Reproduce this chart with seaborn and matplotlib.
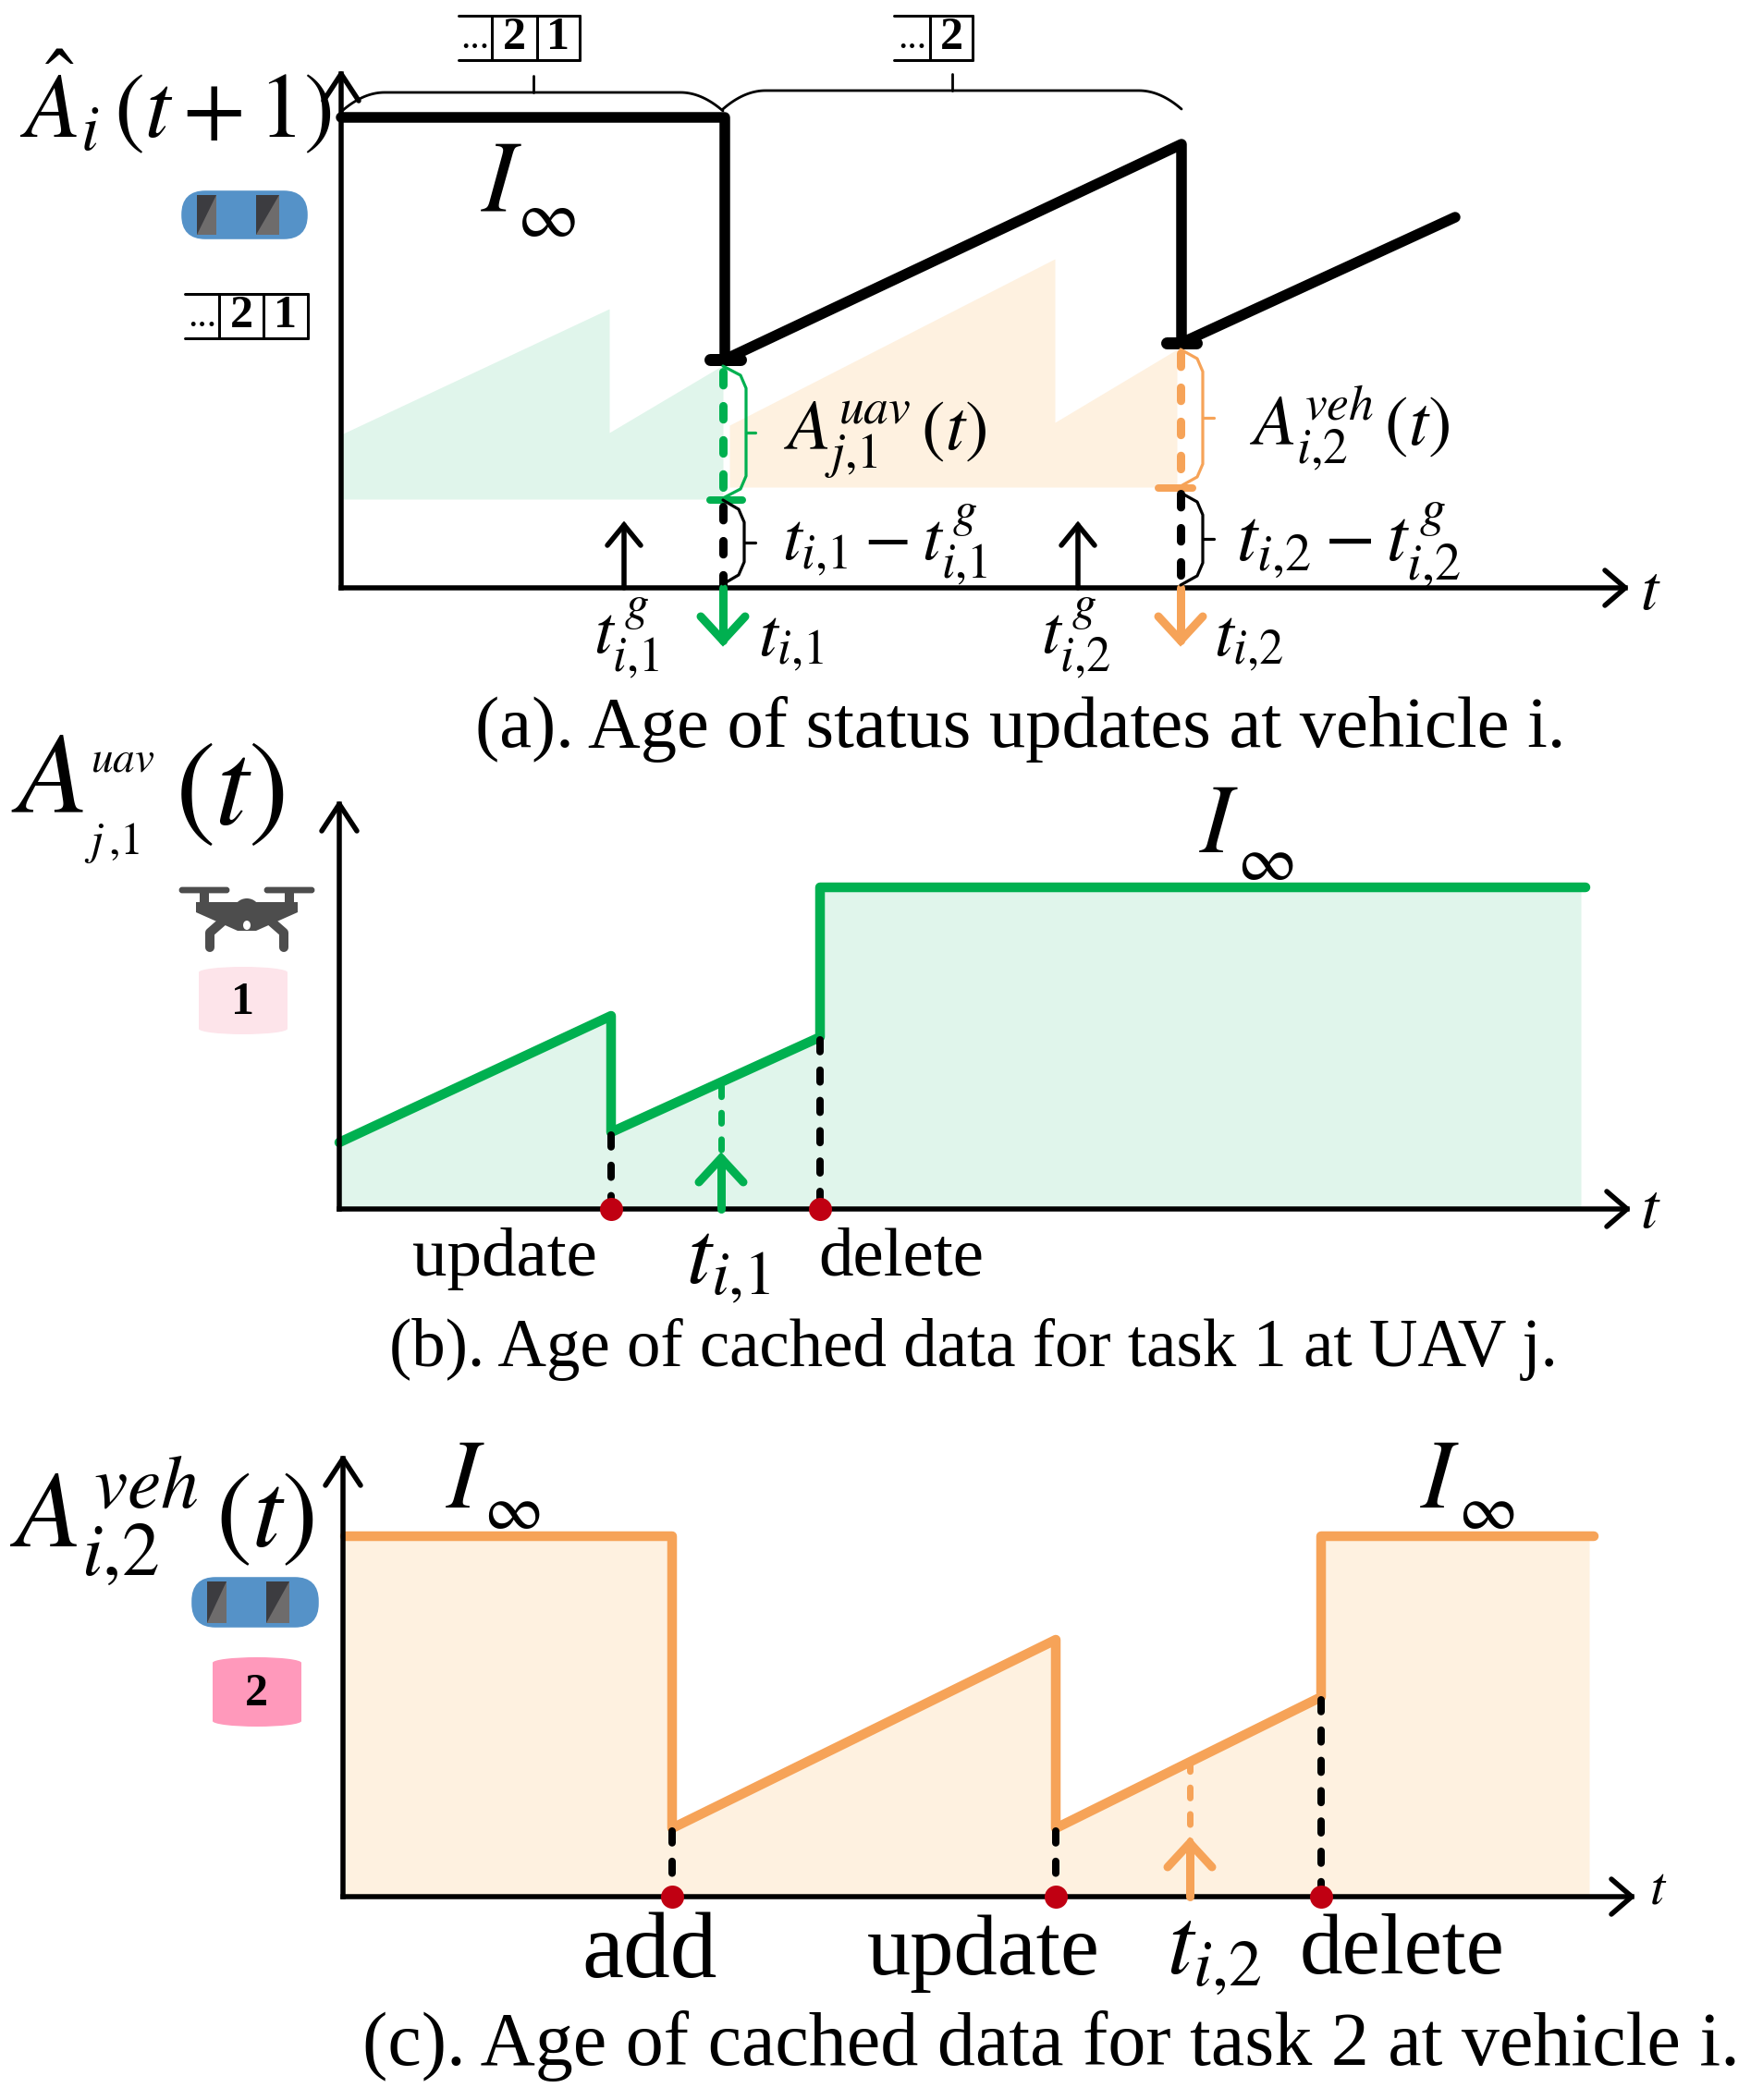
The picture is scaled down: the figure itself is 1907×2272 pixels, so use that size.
"""Age of status updates at vehicle i, and age of cached data at UAV j / vehicle i."""
import matplotlib
matplotlib.use("Agg")
import matplotlib.pyplot as plt
from matplotlib.patches import Ellipse, FancyBboxPatch, Polygon, Rectangle
import numpy as np
import pandas as pd
import seaborn as sns

# panel (a): values are counted from the axis origin, one unit is one pixel of the figure
a_t = [0, 415, 415, 909, 909, 1205]
a_age = [509, 509, 247, 480, 265, 401]
a_green_t = [0, 290, 290, 413]
a_green_age = [166, 302, 168, 241]
a_green_base = 96
a_orange_t = [420, 772, 772, 904]
a_orange_age = [176, 356, 179, 258]
a_orange_base = 109
a_gen_t = [306, 797]
a_recv_t = [413, 908]

# panel (b)
b_t = [0, 294, 294, 520, 520, 1348]
b_age = [72, 209, 83, 186, 348, 348]
b_events = [294, 520]
b_request = 413

# panel (c)
c_t = [2, 356, 356, 771, 771, 1058, 1058, 1353]
c_age = [390, 390, 74, 278, 74, 216, 390, 390]
c_events = [356, 771, 1058]
c_request = 916

titles = ["(a). Age of status updates at vehicle i.",
          "(b). Age of cached data for task 1 at UAV j.",
          "(c). Age of cached data for task 2 at vehicle i."]

BLACK = "#000000"
GREEN = "#00b050"
GREEN_FILL = "#e0f5eb"
ORANGE = "#f6a358"
ORANGE_FILL = "#fef1e0"
RED = "#c00012"
W, H = 1908, 2272
PX = 72 / 100  # points per pixel at dpi 100

sns.set_theme(style="white")
plt.rcParams["font.family"] = ["Liberation Serif", "DejaVu Serif"]
plt.rcParams["mathtext.fontset"] = "stix"
plt.rcParams["text.color"] = BLACK

fig = plt.figure(figsize=(W / 100, H / 100), dpi=100, facecolor="white")


def make_panel(x0, y0, w, h):
    ax = fig.add_axes([x0 / W, 1 - y0 / H, w / W, h / H])
    ax.set_xlim(0, w)
    ax.set_ylim(0, h)
    ax.patch.set_alpha(0)
    ax.set_xticks([])
    ax.set_yticks([])
    for s in ["top", "right"]:
        ax.spines[s].set_visible(False)
    for s in ["left", "bottom"]:
        ax.spines[s].set_linewidth(5.5 * PX)
        ax.spines[s].set_color(BLACK)
        ax.spines[s].set_zorder(6)
    kw = dict(color=BLACK, lw=5.5 * PX, clip_on=False, solid_capstyle="round", zorder=6)
    ax.plot([-19, 0, 19], [h - 29, h, h - 29], **kw)
    ax.plot([w - 22, w, w - 22], [19, 0, -19], **kw)
    return ax


def draw_series(ax, t, age, color, lw):
    df = pd.DataFrame({"t": t, "age": age})
    sns.lineplot(data=df, x="t", y="age", sort=False, estimator=None, color=color,
                 linewidth=lw * PX, ax=ax, clip_on=False, zorder=5,
                 solid_capstyle="round", solid_joinstyle="round")
    ax.set_xlabel("")
    ax.set_ylabel("")


def dashed(ax, x, y0, y1, color, lw=9):
    ax.plot([x, x], [y0, y1], color=color, lw=lw * PX, linestyle=(0, (1.6, 2.5)),
            dash_capstyle="round", clip_on=False, zorder=5)


def arrow(ax, x, base, tip, color, lw, wing=24, back=26):
    sign = 1 if tip > base else -1
    kw = dict(color=color, lw=lw * PX, clip_on=False, solid_capstyle="round",
              solid_joinstyle="miter", zorder=7)
    ax.plot([x, x], [base, tip], **kw)
    ax.plot([x - wing, x, x + wing], [tip - sign * back, tip, tip - sign * back], **kw)


def red_dots(ax, xs):
    sns.scatterplot(x=xs, y=[0] * len(xs), color=RED, s=(25 * PX) ** 2, ax=ax,
                    linewidth=0, clip_on=False, zorder=8)
    ax.set_xlim(0, ax.get_xlim()[1])
    ax.set_ylim(0, ax.get_ylim()[1])


# panel (a)
ax_a = make_panel(369, 636, 1389, 556)
ax_a.fill_between(a_green_t, a_green_base, a_green_age, color=GREEN_FILL, lw=0, zorder=1)
ax_a.fill_between(a_orange_t, a_orange_base, a_orange_age, color=ORANGE_FILL, lw=0, zorder=1)
draw_series(ax_a, a_t, a_age, BLACK, 11.5)
stub_kw = dict(solid_capstyle="round", clip_on=False, zorder=5)
ax_a.plot([399, 432], [247, 247], color=BLACK, lw=13 * PX, **stub_kw)
ax_a.plot([893, 925], [265, 265], color=BLACK, lw=13 * PX, **stub_kw)
ax_a.plot([399, 434], [95, 95], color=GREEN, lw=8 * PX, **stub_kw)
ax_a.plot([884, 921], [108, 108], color=ORANGE, lw=8 * PX, **stub_kw)
dashed(ax_a, a_recv_t[0], 234, 97, GREEN)
dashed(ax_a, a_recv_t[0], 88, 3, BLACK)
dashed(ax_a, a_recv_t[1], 254, 110, ORANGE)
dashed(ax_a, a_recv_t[1], 102, 3, BLACK)
arrow(ax_a, a_recv_t[0], 0, -57, GREEN, 9)
arrow(ax_a, a_recv_t[1], 0, -57, ORANGE, 9)
for x in a_gen_t:
    arrow(ax_a, x, 0, 68, BLACK, 5.5, wing=18, back=22)

# panel (b)
ax_b = make_panel(367, 1308, 1393, 438)
ax_b.fill_between(b_t[:-1] + [1343], 0, b_age, color=GREEN_FILL, lw=0, zorder=1)
draw_series(ax_b, b_t, b_age, GREEN, 10.5)
for x, top in zip(b_events, [83, 186]):
    dashed(ax_b, x, top - 3, 4, BLACK, 8)
dashed(ax_b, b_request, 133, 60, GREEN, 7)
arrow(ax_b, b_request, 0, 55, GREEN, 9)
red_dots(ax_b, b_events)

# panel (c)
ax_c = make_panel(371, 2052, 1394, 474)
ax_c.fill_between(c_t[:-1] + [1348], 0, c_age, color=ORANGE_FILL, lw=0, zorder=1)
draw_series(ax_c, c_t, c_age, ORANGE, 10.5)
for x, top in zip(c_events, [74, 74, 216]):
    dashed(ax_c, x, top - 3, 4, BLACK, 8)
dashed(ax_c, c_request, 147, 60, ORANGE, 7)
arrow(ax_c, c_request, 0, 58, ORANGE, 9)
red_dots(ax_c, c_events)

# overlay in figure pixels for the drawn labels and icons
ov = fig.add_axes([0, 0, 1, 1])
ov.set_xlim(0, W)
ov.set_ylim(H, 0)
ov.axis("off")
ov.patch.set_alpha(0)


def label(x, y, s, size, **kw):
    ov.text(x, y, s, fontsize=size, ha="center", va="center", zorder=10, **kw)


def brace_v(x0, xr, y0, y1, color, tick):
    xs = [x0, xr - 6, xr, xr, xr - 6, x0]
    ys = [y0, y0 + 10, y0 + 24, y1 - 24, y1 - 10, y1]
    ov.plot(xs, ys, color=color, lw=3.2 * PX, zorder=4)
    ym = (y0 + y1) / 2
    ov.plot([xr, xr + tick], [ym, ym], color=color, lw=3.2 * PX, zorder=4)


def brace_h(x0, x1, ytop, ybot, stem_x, stem_top):
    s = np.linspace(0, 1, 20)
    rise = (ybot - ytop) * (1 - (1 - s) ** 2)
    xs = np.r_[x0 + 46 * s, x1 - 46 * s[::-1]]
    ys = np.r_[ybot - rise, ybot - rise[::-1]]
    ov.plot(xs, ys, color=BLACK, lw=2.8 * PX, zorder=4)
    ov.plot([stem_x, stem_x], [ytop, stem_top], color=BLACK, lw=2.8 * PX, zorder=4)


def queue(x0, dividers, y0, y1, numbers):
    ov.plot([x0, dividers[-1]], [y0, y0], color=BLACK, lw=3 * PX)
    ov.plot([x0, dividers[-1]], [y1, y1], color=BLACK, lw=3 * PX)
    for d in dividers:
        ov.plot([d, d], [y0, y1], color=BLACK, lw=3 * PX)
    label((x0 + dividers[0]) / 2, (y0 + y1) / 2 + 1, "...", 30)
    for n, a, b in zip(numbers, dividers[:-1], dividers[1:]):
        label((a + b) / 2, (y0 + y1) / 2, n, 36, fontweight="bold")


def car(x0, y0, x1, y1):
    w, h = x1 - x0, y1 - y0
    ov.add_patch(FancyBboxPatch((x0 + 6, y0 + 3), w - 12, h - 6,
                                boxstyle="round,pad=0,rounding_size=23",
                                fc="#5592c8", ec="#5592c8", lw=4))
    for a, b in [(0.14, 0.285), (0.585, 0.76)]:
        xa, xb = x0 + a * w, x0 + b * w
        ya, yb = y0 + 0.09 * h, y0 + 0.91 * h
        ov.add_patch(Polygon([[xa, ya], [xb, ya], [xb, yb], [xa, yb]],
                             fc="#3c3c40", ec="none", zorder=3))
        ov.add_patch(Polygon([[xb, ya], [xb, yb], [xa, yb]],
                             fc="#6e6c6c", ec="none", zorder=3))


def cylinder(x0, y0, x1, y1, color):
    ov.add_patch(Rectangle((x0, y0 + 6), x1 - x0, y1 - y0 - 12, fc=color, ec="none"))
    ov.add_patch(Ellipse(((x0 + x1) / 2, y0 + 6), x1 - x0, 12, fc=color, ec="none"))
    ov.add_patch(Ellipse(((x0 + x1) / 2, y1 - 6), x1 - x0, 12, fc=color, ec="none"))


def drone(cx, top):
    dark = "#4d4d4d"
    for dx in [-46, 46]:
        ov.add_patch(FancyBboxPatch((cx + dx - 26, top + 2), 52, 4,
                                    boxstyle="round,pad=0,rounding_size=2", fc=dark, ec=dark, lw=2))
    for dx in [-46, 46]:
        ov.add_patch(Rectangle((cx + dx - 5, top + 4), 10, 18, fc=dark, ec="none"))
    ov.add_patch(Polygon([[cx - 55, top + 17], [cx + 55, top + 17], [cx + 55, top + 28],
                          [cx + 10, top + 48], [cx - 10, top + 48], [cx - 55, top + 28]],
                         fc=dark, ec="none"))
    ov.add_patch(Ellipse((cx, top + 26), 28, 26, fc=dark, ec="none"))
    ov.add_patch(Ellipse((cx, top + 42), 8, 10, fc="white", ec="none", zorder=3))
    for sign in [-1, 1]:
        ov.plot([cx + sign * 24, cx + sign * 40, cx + sign * 40],
                [top + 36, top + 50, top + 66], color=dark, lw=10 * PX,
                solid_capstyle="round", solid_joinstyle="round")


brace_h(370, 782, 100, 120, 577, 82)
brace_h(782, 1278, 98, 118, 1030, 80)
brace_v(782, 807, 396, 539, GREEN, 10)
brace_v(782, 805, 541, 632, BLACK, 12)
brace_v(1277, 1301, 378, 526, ORANGE, 12)
brace_v(1277, 1301, 533, 633, BLACK, 12)

queue(496, [532, 581, 627], 17, 65, ["2", "1"])
queue(967, [1006, 1052], 17, 65, ["2"])
queue(200, [237, 285, 333], 318, 366, ["2", "1"])
car(193, 206, 336, 259)
car(204, 1706, 348, 1761)
drone(267, 959)
cylinder(215, 1046, 311, 1119, "#fde4ea")
cylinder(230, 1793, 326, 1868, "#ff99bb")
label(263, 1085, "1", 36, fontweight="bold")
label(277, 1833, "2", 36, fontweight="bold")

# panel (a) labels
label(190, 112, r"$\hat{A}_i\,(t+1)$", 71)
label(543, 202, r"$I$", 80)
label(591, 239, r"$\infty$", 52)
label(678, 691, r"$t_{i{,}1}^{\,g}$", 54)
label(856, 695, r"$t_{i{,}1}$", 54)
label(1164, 691, r"$t_{i{,}2}^{\,g}$", 54)
label(1351, 695, r"$t_{i{,}2}$", 54)
label(957, 590, r"$t_{i{,}1}-t_{i{,}1}^{\,g}$", 54)
label(1459, 590, r"$t_{i{,}2}-t_{i{,}2}^{\,g}$", 58)
label(958, 476, r"$A_{j{,}1}^{uav}\,(t)$", 55)
label(1460, 464, r"$A_{i{,}2}^{veh}\,(t)$", 55)
label(1785, 642, r"$t$", 50)
label(1104, 789, titles[0], 56.5)

# panel (b) labels
label(51, 848, r"$A$", 90)
label(133, 823, r"$uav$", 34)
label(121, 912, r"$j\,{,}1$", 36)
label(248, 860, r"$(t)$", 94)
label(1319, 897, r"$I$", 76)
label(1369, 935, r"$\infty$", 50)
label(1785, 1311, r"$t$", 50)
label(546, 1362, "update", 54)
label(975, 1362, "delete", 54)
label(788, 1368, r"$t_{i{,}1}$", 70)
label(1053, 1460, titles[1], 52.5)

# panel (c) labels
label(176, 1645, r"$A_{i{,}2}^{veh}\,(t)$", 84)
label(504, 1606, r"$I$", 76)
label(554, 1637, r"$\infty$", 50)
label(1558, 1606, r"$I$", 76)
label(1608, 1637, r"$\infty$", 50)
label(1794, 2046, r"$t$", 42)
label(703, 2115, "add", 73)
label(1064, 2113, "update", 68)
label(1313, 2113, r"$t_{i{,}2}$", 74)
label(1517, 2113, "delete", 67)
label(1137, 2214, titles[2], 59)

fig.savefig("out.png", dpi=100, facecolor="white")
plt.close(fig)
